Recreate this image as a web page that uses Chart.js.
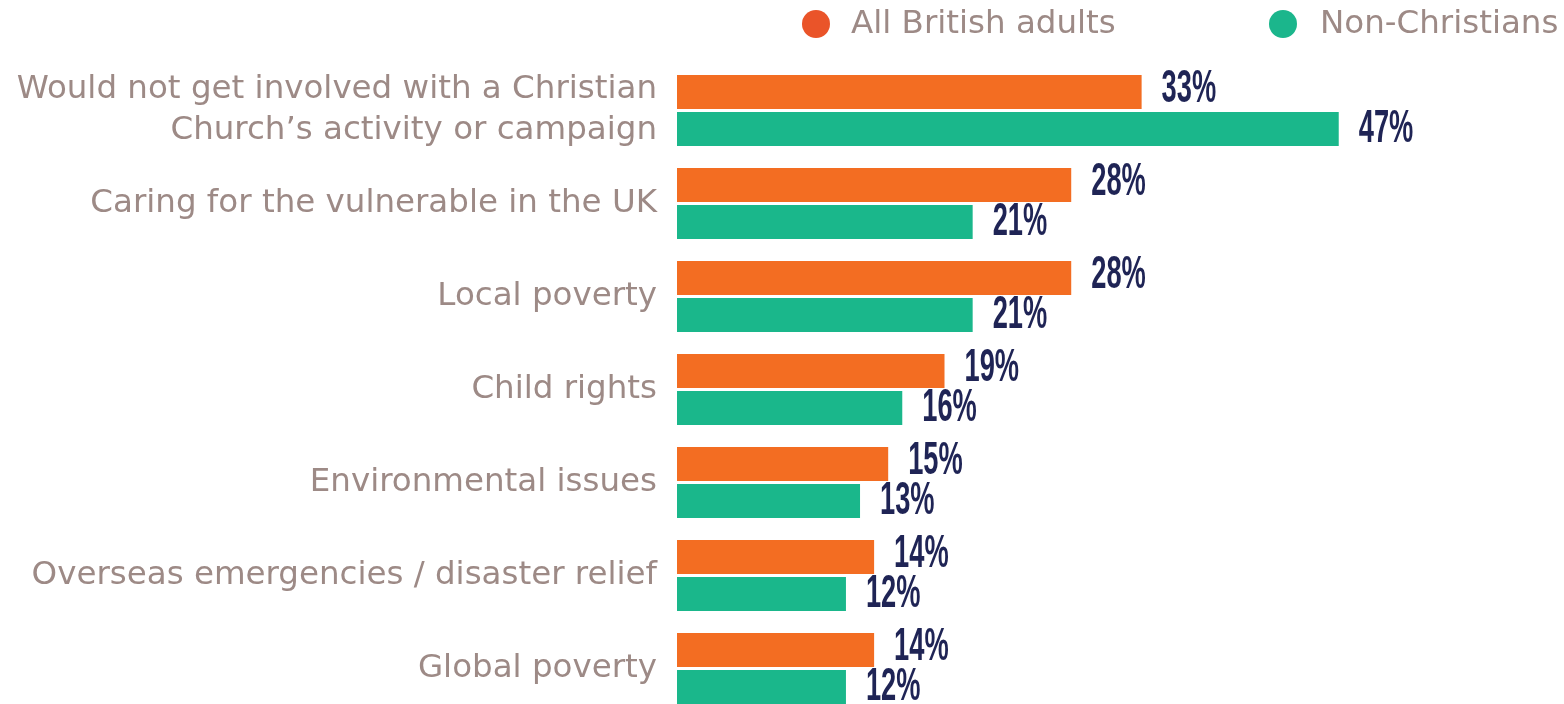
<!DOCTYPE html>
<html>
<head>
<meta charset="utf-8">
<script src="https://cdn.jsdelivr.net/npm/chart.js@4"></script>
<style>
  html, body { margin: 0; padding: 0; background: #fff; overflow: hidden; }
  #chart { display: block; }
</style>
</head>
<body>
<canvas id="chart" width="1564" height="715"></canvas>
<script>
const categories = [
  ['Would not get involved with a Christian', 'Church\u2019s activity or campaign'],
  'Caring for the vulnerable in the UK',
  'Local poverty',
  'Child rights',
  'Environmental issues',
  'Overseas emergencies / disaster relief',
  'Global poverty'
];
const seriesNames = ['All British adults', 'Non-Christians'];
const allAdults = [33, 28, 28, 19, 15, 14, 14];
const nonChristians = [47, 21, 21, 16, 13, 12, 12];

const labelGrey = '#9d8a86';
const navy = '#1f2455';
const textFont = '"DejaVu Sans", "Noto Sans", sans-serif';

// value labels to the right of each bar, drawn narrow like the original
const valueLabels = {
  id: 'valueLabels',
  afterDatasetsDraw(chart) {
    const ctx = chart.ctx;
    ctx.save();
    ctx.fillStyle = navy;
    ctx.font = 'bold 47px "Liberation Sans", Arial, sans-serif';
    ctx.textAlign = 'left';
    ctx.textBaseline = 'middle';
    chart.data.datasets.forEach((ds, i) => {
      const meta = chart.getDatasetMeta(i);
      const dy = i === 0 ? -3 : 0;
      meta.data.forEach((bar, j) => {
        ctx.save();
        ctx.translate(bar.x + 20, bar.y + dy);
        ctx.scale(0.58, 1);
        ctx.fillText(ds.data[j] + '%', 0, 0);
        ctx.restore();
      });
    });
    ctx.restore();
  }
};

// legend at the top right with round markers
const topLegend = {
  id: 'topLegend',
  afterDraw(chart) {
    const ctx = chart.ctx;
    const spots = [{ cx: 816, tx: 851, color: '#ea5429' }, { cx: 1283, tx: 1320, color: '#1bb68c' }];
    ctx.save();
    ctx.font = '32.5px ' + textFont;
    ctx.textBaseline = 'middle';
    ctx.textAlign = 'left';
    chart.data.datasets.forEach((ds, i) => {
      const s = spots[i];
      ctx.fillStyle = s.color;
      ctx.beginPath();
      ctx.arc(s.cx, 24, 14, 0, Math.PI * 2);
      ctx.fill();
      ctx.fillStyle = labelGrey;
      ctx.fillText(ds.label, s.tx, 25);
    });
    ctx.restore();
  }
};

new Chart(document.getElementById('chart').getContext('2d'), {
  type: 'bar',
  data: {
    labels: categories,
    datasets: [
      {
        label: seriesNames[0],
        data: allAdults,
        backgroundColor: '#f36d22',
        barPercentage: 34 / 37,
        categoryPercentage: 74 / 93
      },
      {
        label: seriesNames[1],
        data: nonChristians,
        backgroundColor: '#1ab78b',
        barPercentage: 34 / 37,
        categoryPercentage: 74 / 93
      }
    ]
  },
  options: {
    indexAxis: 'y',
    responsive: false,
    animation: false,
    devicePixelRatio: 1,
    layout: { padding: { top: 64, left: 0, right: 0, bottom: 0 } },
    plugins: {
      legend: { display: false },
      tooltip: { enabled: false }
    },
    scales: {
      x: {
        display: false,
        min: 0,
        max: 63
      },
      y: {
        grid: { display: false, drawTicks: false },
        border: { display: false },
        afterFit(scale) {
          scale.width = 677;
          scale.paddingTop = 0;
          scale.paddingBottom = 0;
        },
        ticks: {
          padding: 20,
          color: labelGrey,
          font: { family: textFont, size: 32.5, lineHeight: 1.26 }
        }
      }
    }
  },
  plugins: [valueLabels, topLegend]
});
</script>
</body>
</html>
